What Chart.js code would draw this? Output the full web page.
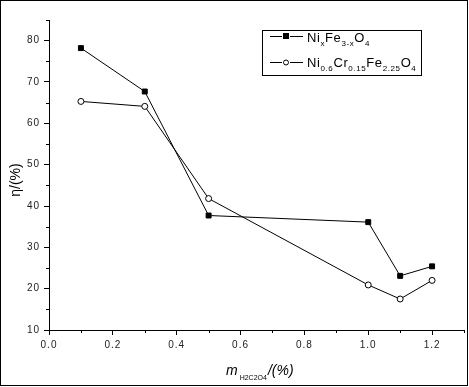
<!DOCTYPE html>
<html>
<head>
<meta charset="utf-8">
<style>
html,body{margin:0;padding:0;background:#fff;}
#wrap{width:469px;height:387px;position:relative;}
</style>
<script src="https://cdn.jsdelivr.net/npm/chart.js@4.4.1/dist/chart.umd.min.js"></script>
</head>
<body>
<div id="wrap"><canvas id="c" width="469" height="387"></canvas></div>
<script>
const xValues = [0.1, 0.3, 0.5, 1.0, 1.1, 1.2];
const nixfe = [78.2, 67.7, 37.7, 36.1, 23.1, 25.4];
const nicrfe = [65.3, 64.1, 41.8, 20.9, 17.5, 22.0];
const legend1 = [["Ni",0],["x",1],["Fe",0],["3-x",1],["O",0],["4",1]];
const legend2 = [["Ni",0],["0.6",1],["Cr",0],["0.15",1],["Fe",0],["2.25",1],["O",0],["4",1]];

const FONT = "Arial, 'Liberation Sans', sans-serif";

function drawRich(ctx, x, y, parts, size, subSize, subOff, spacing) {
  ctx.textBaseline = 'alphabetic';
  ctx.textAlign = 'left';
  let cx = x;
  for (const [t, sub] of parts) {
    ctx.font = (sub ? subSize : size) + 'px ' + FONT;
    ctx.letterSpacing = spacing;
    ctx.fillText(t, cx, y + (sub ? subOff : 0));
    cx += ctx.measureText(t).width;
  }
  return cx;
}

const decor = {
  id: 'decor',
  beforeDraw(chart) {
    chart.ctx.letterSpacing = '1px';
  },
  afterDraw(chart) {
    const ctx = chart.ctx;
    const xs = chart.scales.x, ys = chart.scales.y;
    ctx.save();
    ctx.strokeStyle = '#000';
    ctx.lineWidth = 1;
    // minor ticks
    ctx.beginPath();
    for (let v = 0.1; v <= 1.3001; v += 0.2) {
      const px = Math.round(xs.getPixelForValue(v)) + 0.5;
      ctx.moveTo(px, ys.bottom);
      ctx.lineTo(px, ys.bottom + 3);
    }
    for (let v = 15; v <= 85.001; v += 10) {
      const py = Math.round(ys.getPixelForValue(v)) + 0.5;
      ctx.moveTo(xs.left, py);
      ctx.lineTo(xs.left - 3, py);
    }
    ctx.stroke();
    // outer frame
    ctx.strokeRect(0.5, 0.5, 467, 385);
    // legend box
    ctx.strokeRect(262.5, 30.5, 159, 45);
    ctx.fillStyle = '#000';
    // row 1
    ctx.beginPath();
    ctx.moveTo(270, 36.5); ctx.lineTo(282, 36.5);
    ctx.moveTo(290, 36.5); ctx.lineTo(303, 36.5);
    ctx.stroke();
    ctx.fillRect(283, 33, 6, 6);
    // row 2
    ctx.beginPath();
    ctx.moveTo(270, 62.5); ctx.lineTo(282, 62.5);
    ctx.moveTo(290, 62.5); ctx.lineTo(303, 62.5);
    ctx.stroke();
    ctx.beginPath();
    ctx.arc(286, 62.5, 2.5, 0, Math.PI * 2);
    ctx.fillStyle = '#fff'; ctx.fill(); ctx.stroke();
    ctx.fillStyle = '#000';
    drawRich(ctx, 307, 42, legend1, 13, 8, 4, '0.6px');
    drawRich(ctx, 307, 67, legend2, 13, 8, 4, '0.6px');
    // x title
    ctx.font = 'italic 14px ' + FONT;
    ctx.letterSpacing = '0px';
    let x0 = 226;
    ctx.fillText('m', x0, 375);
    x0 += ctx.measureText('m').width + 2;
    ctx.font = '7px ' + FONT;
    ctx.fillText('H2C2O4', x0, 380);
    x0 += ctx.measureText('H2C2O4').width + 1;
    ctx.font = 'italic 14px ' + FONT;
    ctx.fillText('/(%)', x0, 375);
    // y title
    ctx.translate(20, 180);
    ctx.rotate(-Math.PI / 2);
    ctx.font = '14px ' + FONT;
    ctx.textAlign = 'center';
    ctx.fillText('\u03B7/(%)', 0, 0);
    ctx.restore();
  }
};

new Chart(document.getElementById('c'), {
  type: 'scatter',
  data: {
    datasets: [
      {
        label: 'NixFe3-xO4',
        data: xValues.map((x, i) => ({x, y: nixfe[i]})),
        showLine: true,
        borderColor: '#000',
        borderWidth: 1,
        pointStyle: 'rect',
        pointRadius: 3.5,
        pointBackgroundColor: '#000',
        pointBorderColor: '#000',
        pointBorderWidth: 1,
        tension: 0
      },
      {
        label: 'Ni0.6Cr0.15Fe2.25O4',
        data: xValues.map((x, i) => ({x, y: nicrfe[i]})),
        showLine: true,
        borderColor: '#000',
        borderWidth: 1,
        pointStyle: 'circle',
        pointRadius: 3,
        pointBackgroundColor: '#fff',
        pointBorderColor: '#000',
        pointBorderWidth: 1,
        tension: 0
      }
    ]
  },
  options: {
    responsive: false,
    animation: false,
    devicePixelRatio: 1,
    layout: {padding: {top: 20, right: 4, left: 0, bottom: 0}},
    plugins: {legend: {display: false}, title: {display: false}, tooltip: {enabled: false}},
    scales: {
      x: {
        type: 'linear',
        min: 0, max: 1.3,
        ticks: {
          stepSize: 0.2, includeBounds: false, color: '#222', padding: 4,
          font: {size: 10, family: FONT},
          callback: v => v.toFixed(1)
        },
        grid: {drawOnChartArea: false, drawTicks: true, tickLength: 5, tickColor: '#000'},
        border: {display: true, color: '#000', width: 1},
        afterFit: s => { s.height = 57; }
      },
      y: {
        type: 'linear',
        min: 10, max: 85,
        ticks: {
          stepSize: 10, includeBounds: false, color: '#222', padding: 4,
          font: {size: 10, family: FONT}
        },
        grid: {drawOnChartArea: false, drawTicks: true, tickLength: 5, tickColor: '#000'},
        border: {display: true, color: '#000', width: 1},
        afterFit: s => { s.width = 49; }
      }
    }
  },
  plugins: [decor]
});
</script>
</body>
</html>
